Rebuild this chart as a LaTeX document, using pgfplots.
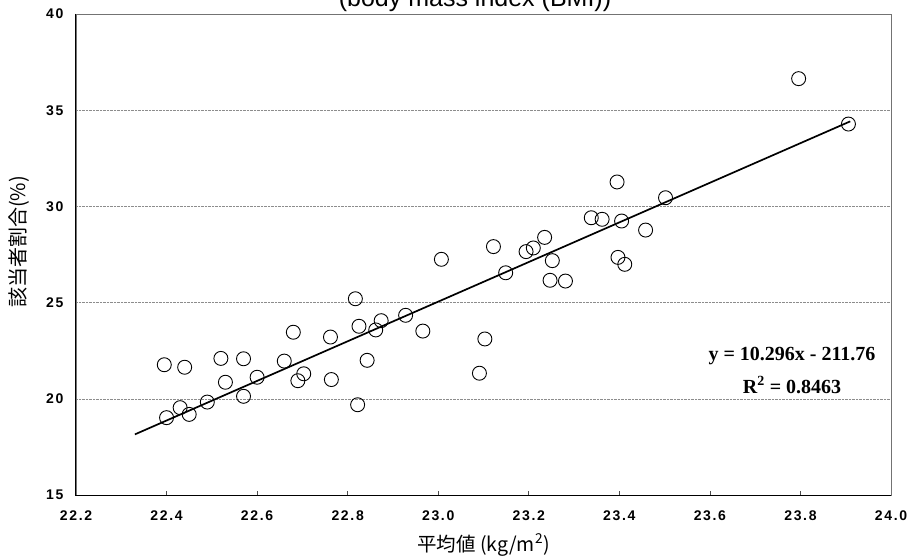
\documentclass[border=0pt]{standalone}
\usepackage{pgfplots}
\pgfplotsset{compat=1.18}
\usepackage{fontspec}
\setmainfont{Liberation Sans}
\newfontfamily\cjk{Noto Sans CJK JP}
\newfontfamily\tms{Liberation Serif}
\newfontfamily\tickfont[LetterSpace=12]{Liberation Sans}

\pgfplotstableread{
x y
22.395 21.77
22.40 19.02
22.43 19.54
22.44 21.64
22.45 19.19
22.49 19.83
22.52 22.10
22.53 20.86
22.57 22.08
22.57 20.13
22.60 21.12
22.66 21.96
22.68 23.46
22.69 20.94
22.703 21.30
22.762 23.21
22.764 21.00
22.817 25.20
22.822 19.69
22.825 23.77
22.843 22.00
22.862 23.58
22.874 24.06
22.928 24.34
22.966 23.52
23.007 27.25
23.091 21.33
23.103 23.11
23.122 27.91
23.149 26.55
23.194 27.65
23.21 27.84
23.235 28.39
23.247 26.16
23.252 27.18
23.281 26.12
23.338 29.41
23.362 29.33
23.395 31.27
23.397 27.35
23.405 29.24
23.412 26.99
23.458 28.77
23.502 30.45
23.796 36.64
23.906 34.28
}\pts

\begin{document}
\begin{tikzpicture}
\begin{axis}[
  name=ax,
  scale only axis, width=815pt, height=481pt,
  xmin=22.2, xmax=24.0, ymin=15, ymax=40,
  xtick={22.2,22.4,22.6,22.8,23.0,23.2,23.4,23.6,23.8,24.0},
  ytick={15,20,25,30,35,40},
  /pgf/number format/assume math mode=true,
  xticklabel style={/pgf/number format/.cd,fixed,fixed zerofill,precision=1,/tikz/.cd,
     font={\tickfont\fontsize{14}{16}\selectfont\bfseries}, yshift=-12pt},
  yticklabel style={font={\tickfont\fontsize{14}{16}\selectfont\bfseries}, xshift=-9pt},
  xtick pos=bottom, xtick align=inside,
  major tick length=4pt,
  ytick style={draw=none},
  xtick style={black!70, line width=0.6pt},
  axis line style={black!55, line width=0.6pt},
  ymajorgrids,
  grid style={black!45, densely dotted, line width=0.6pt},
  clip=false,
]
\addplot[only marks, mark=o, mark size=7pt, mark options={black, line width=0.9pt}] table[x=x,y=y] {\pts};
\addplot[black, line width=1.7pt] coordinates {(22.33,18.15) (23.91,34.42)};
\draw[black, line width=1pt] (rel axis cs:0,1) -- (rel axis cs:0,0) -- (rel axis cs:1,0);
\end{axis}
\node[anchor=base, font=\fontsize{25}{30}\selectfont] at ([xshift=399pt,yshift=7pt]ax.north west) {(body mass index (BMI))};
\node[rotate=90, font=\cjk\fontsize{20}{24}\selectfont] at ([xshift=-57pt,yshift=253pt]ax.south west) {該当者割合(\%)};
\node[font=\cjk\fontsize{19.5}{23}\selectfont] at ([yshift=-50pt]ax.south) {平均値 (kg/m\textsuperscript{2})};
\node[font=\tms\bfseries\fontsize{20}{23}\selectfont] at ([xshift=716pt,yshift=139pt]ax.south west) {y = 10.296x - 211.76};
\node[font=\tms\bfseries\fontsize{20}{23}\selectfont] at ([xshift=716pt,yshift=110pt]ax.south west) {R\textsuperscript{2} = 0.8463};
\pgfresetboundingbox
\useasboundingbox ([xshift=-76pt,yshift=-60pt]ax.south west) rectangle ([xshift=17pt,yshift=14pt]ax.north east);
\end{tikzpicture}
\end{document}
